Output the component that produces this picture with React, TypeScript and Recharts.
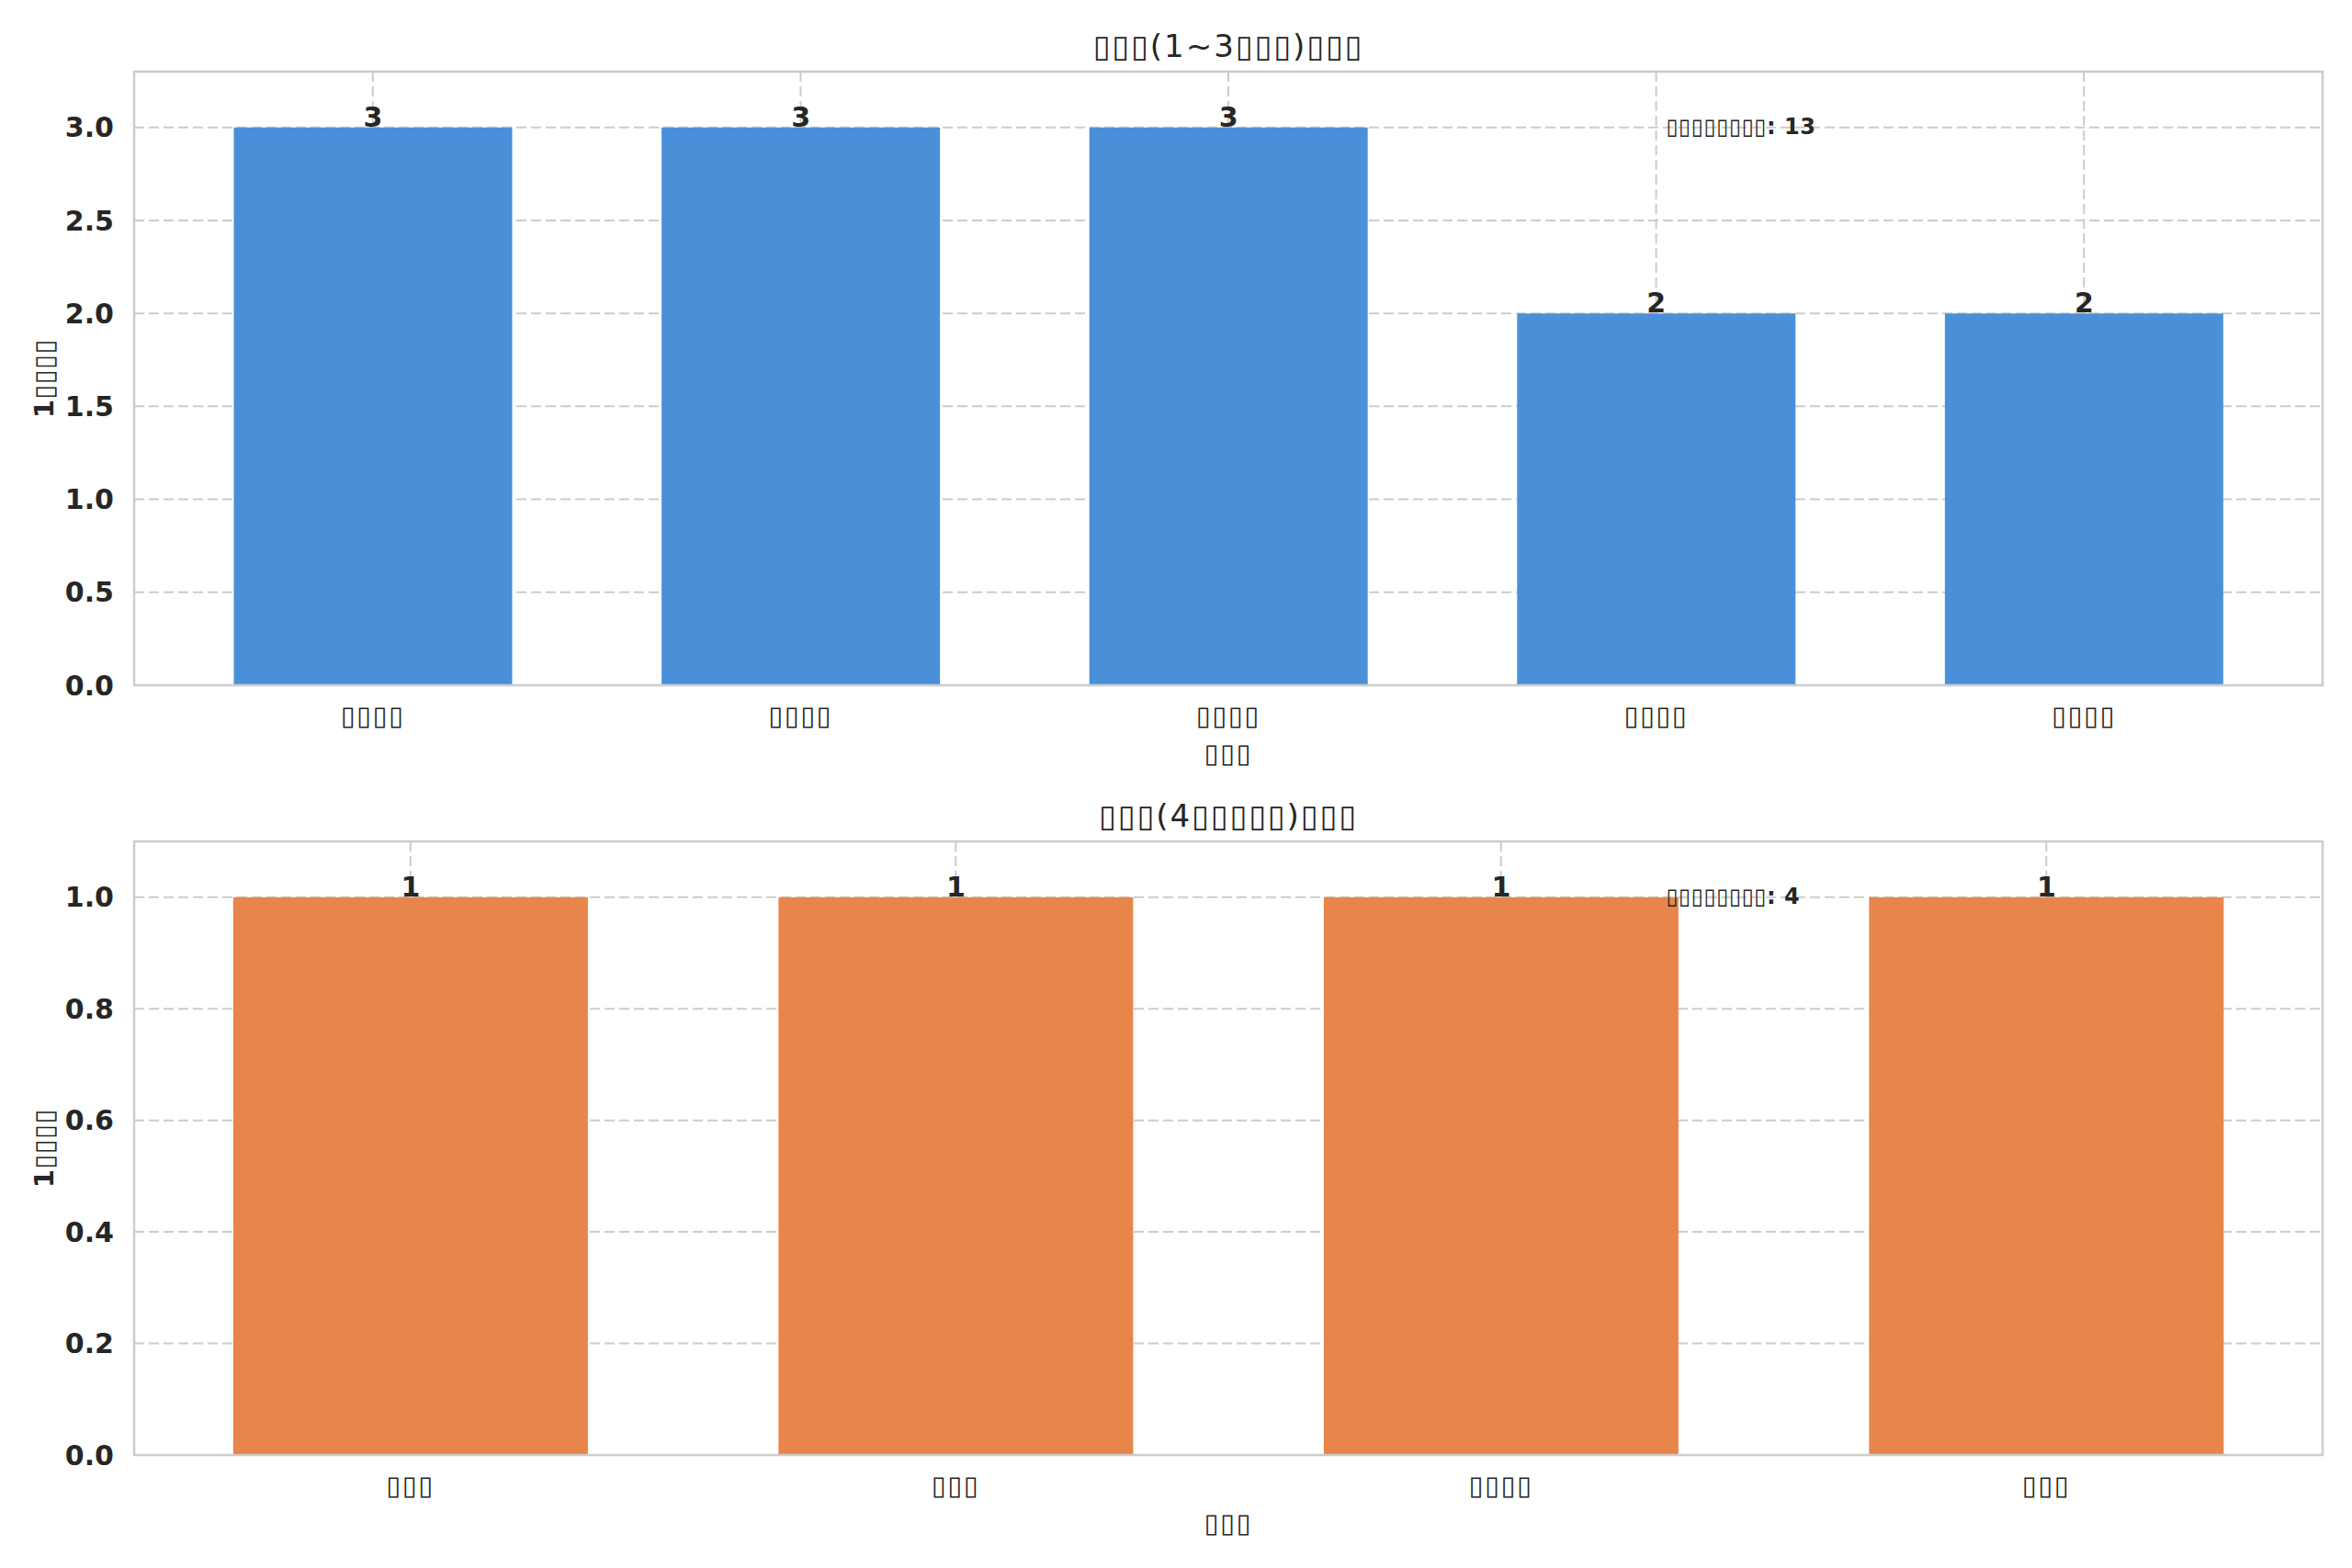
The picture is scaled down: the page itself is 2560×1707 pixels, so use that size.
import React from 'react';
import { BarChart, Bar, XAxis, YAxis, CartesianGrid, LabelList } from 'recharts';

// ---- data ----
const topCategories = ['▯▯▯▯', '▯▯▯▯', '▯▯▯▯', '▯▯▯▯', '▯▯▯▯'];
const topValues = [3, 3, 3, 2, 2];
const topTicks = [0, 0.5, 1.0, 1.5, 2.0, 2.5, 3.0];
const topTitle = '▯▯▯(1~3▯▯▯)▯▯▯';
const topNote = '▯▯▯▯▯▯▯▯: 13';

const bottomCategories = ['▯▯▯', '▯▯▯', '▯▯▯▯', '▯▯▯'];
const bottomValues = [1, 1, 1, 1];
const bottomTicks = [0, 0.2, 0.4, 0.6, 0.8, 1.0];
const bottomTitle = '▯▯▯(4▯▯▯▯▯)▯▯▯';
const bottomNote = '▯▯▯▯▯▯▯▯: 4';

const yLabel = '1▯▯▯▯';
const xLabel = '▯▯▯';

// ---- layout ----
const W = 2560;
const H = 838;
const PLOT_LEFT = 146;
const PLOT_RIGHT = 32;
const PLOT_TOP = 78;
const X_AXIS_H = 92;
const PLOT_W = W - PLOT_LEFT - PLOT_RIGHT;
const PLOT_H = H - PLOT_TOP - X_AXIS_H;
const FONT = '"DejaVu Sans", sans-serif';
const TEXT = '#262626';
const GRID = '#cccccc';

type PanelProps = {
  categories: string[];
  values: number[];
  ticks: number[];
  yMax: number;
  color: string;
  title: string;
  note: string;
  pad: number;
  top: number;
};

function Panel({ categories, values, ticks, yMax, color, title, note, pad, top }: PanelProps) {
  const data = categories.map((name, i) => ({ idx: i, name, value: values[i] }));
  return (
    <div style={{ position: 'absolute', left: 0, top, width: W, height: H }}>
      <BarChart
        width={W}
        height={H}
        data={data}
        margin={{ top: PLOT_TOP, right: PLOT_RIGHT, left: 0, bottom: 0 }}
        barCategoryGap="17.5%"
      >
        <CartesianGrid stroke={GRID} strokeDasharray="11 5" strokeWidth={2} vertical horizontal />
        <XAxis
          dataKey="idx"
          type="category"
          height={X_AXIS_H}
          padding={{ left: pad, right: pad }}
          tickFormatter={(v: number) => categories[v]}
          axisLine={false}
          tickLine={false}
          tickSize={0}
          tickMargin={22}
          interval={0}
          tick={{ fill: TEXT, fontSize: 29, fontFamily: FONT, letterSpacing: 1.5 }}
        />
        <YAxis
          type="number"
          domain={[0, yMax]}
          ticks={ticks}
          width={PLOT_LEFT}
          axisLine={false}
          tickLine={false}
          tickSize={0}
          tickMargin={22}
          interval={0}
          tickFormatter={(v: number) => v.toFixed(1)}
          tick={{ fill: TEXT, fontSize: 30, fontWeight: 'bold', fontFamily: FONT }}
        />
        <Bar dataKey="value" fill={color} isAnimationActive={false}>
          <LabelList
            dataKey="value"
            position="top"
            offset={1}
            style={{ fill: TEXT, fontSize: 30, fontWeight: 'bold', fontFamily: FONT }}
          />
        </Bar>
      </BarChart>
      <svg
        width={W}
        height={H}
        style={{ position: 'absolute', left: 0, top: 0, pointerEvents: 'none' }}
      >
        <rect
          x={PLOT_LEFT}
          y={PLOT_TOP}
          width={PLOT_W}
          height={PLOT_H}
          fill="none"
          stroke={GRID}
          strokeWidth={2.5}
        />
        <text
          x={PLOT_LEFT + PLOT_W / 2}
          y={62}
          textAnchor="middle"
          fontFamily={FONT}
          fontSize={34}
          letterSpacing={2}
          fill={TEXT}
        >
          {title}
        </text>
        <text
          x={PLOT_LEFT + PLOT_W * 0.7}
          y={PLOT_TOP + 68}
          textAnchor="start"
          fontFamily={FONT}
          fontSize={24}
          fontWeight="bold"
          letterSpacing={0.5}
          fill={TEXT}
        >
          {note}
        </text>
        <text
          x={PLOT_LEFT + PLOT_W / 2}
          y={830}
          textAnchor="middle"
          fontFamily={FONT}
          fontSize={29}
          letterSpacing={1.5}
          fill={TEXT}
        >
          {xLabel}
        </text>
        <text
          transform={`translate(58, ${PLOT_TOP + PLOT_H / 2}) rotate(-90)`}
          textAnchor="middle"
          fontFamily={FONT}
          fontSize={29}
          fontWeight="bold"
          letterSpacing={0.5}
          fill={TEXT}
        >
          {yLabel}
        </text>
      </svg>
    </div>
  );
}

export default function App() {
  return (
    <div style={{ position: 'relative', width: W, height: 1707, background: '#ffffff' }}>
      <style>{'body{margin:0;background:#ffffff;}'}</style>
      <Panel
        categories={topCategories}
        values={topValues}
        ticks={topTicks}
        yMax={3.3}
        color="#4a90d9"
        title={topTitle}
        note={topNote}
        pad={27}
        top={0}
      />
      <Panel
        categories={bottomCategories}
        values={bottomValues}
        ticks={bottomTicks}
        yMax={1.1}
        color="#e8854a"
        title={bottomTitle}
        note={bottomNote}
        pad={4}
        top={838}
      />
    </div>
  );
}
